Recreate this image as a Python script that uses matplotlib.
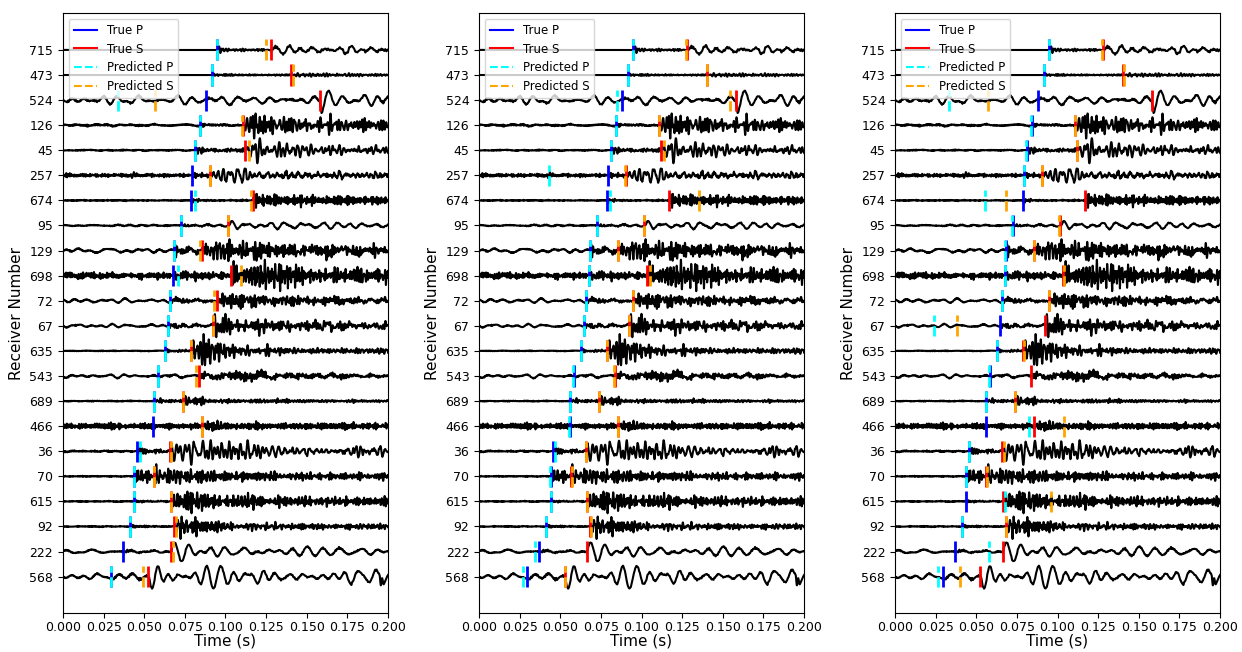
import numpy as np
import matplotlib.pyplot as plt
from matplotlib.lines import Line2D

# receivers, top to bottom
receivers = [715, 473, 524, 126, 45, 257, 674, 95, 129, 698, 72,
             67, 635, 543, 689, 466, 36, 70, 615, 92, 222, 568]

true_p = [0.0946, 0.0917, 0.0878, 0.0841, 0.0810, 0.0791, 0.0789, 0.0724, 0.0681, 0.0675, 0.0661,
          0.0644, 0.0627, 0.0582, 0.0561, 0.0557, 0.0453, 0.0440, 0.0440, 0.0410, 0.0371, 0.0294]
true_s = [0.1277, 0.1405, 0.1581, 0.1106, 0.1120, 0.0906, 0.1167, 0.1013, 0.0854, 0.1035, 0.0949,
          0.0921, 0.0790, 0.0834, 0.0737, 0.0856, 0.0658, 0.0563, 0.0664, 0.0685, 0.0663, 0.0526]

nan = np.nan
pred_p = [
    [0.0946, 0.0917, 0.0339, 0.0841, 0.0810, nan, 0.0810, 0.0724, 0.0681, 0.0707, 0.0661,
     0.0644, 0.0627, 0.0582, 0.0561, nan, 0.0471, 0.0440, 0.0440, 0.0410, nan, 0.0294],
    [0.0945, 0.0918, 0.0850, 0.0840, 0.0809, 0.0431, 0.0807, 0.0723, 0.0682, 0.0676, 0.0661,
     0.0643, 0.0628, 0.0581, 0.0560, 0.0556, 0.0468, 0.0439, 0.0441, 0.0409, 0.0345, 0.0271],
    [0.0945, 0.0916, 0.0333, 0.0840, 0.0809, 0.0791, 0.0556, 0.0723, 0.0680, 0.0674, 0.0661,
     0.0238, 0.0628, 0.0581, 0.0563, 0.0823, 0.0454, 0.0439, 0.0678, 0.0411, 0.0581, 0.0263],
]
pred_s = [
    [0.1248, 0.1418, 0.0567, 0.1104, 0.1143, 0.0906, 0.1157, 0.1015, 0.0843, 0.1094, 0.0931,
     0.0921, 0.0789, 0.0820, 0.0736, 0.0855, 0.0666, 0.0561, 0.0664, 0.0693, 0.0676, 0.0491],
    [0.1273, 0.1405, 0.1546, 0.1105, 0.1138, 0.0900, 0.1355, 0.1012, 0.0856, 0.1051, 0.0947,
     0.0920, 0.0790, 0.0832, 0.0737, 0.0856, 0.0657, 0.0571, 0.0663, 0.0686, nan, 0.0528],
    [0.1275, 0.1407, 0.0571, 0.1107, 0.1119, 0.0906, 0.0686, 0.1012, 0.0854, 0.1037, 0.0949,
     0.0380, 0.0791, nan, 0.0737, 0.1037, 0.0670, 0.0565, 0.0963, 0.0686, nan, 0.0398],
]

# rough trace character (amplitudes in trace spacings)
lf_amp = [0.0, 0.0, 0.07, 0.02, 0.008, 0.008, 0.004, 0.015, 0.04, 0.015, 0.035,
          0.04, 0.004, 0.035, 0.004, 0.008, 0.008, 0.004, 0.004, 0.004, 0.04, 0.05]
hf_amp = [0.0, 0.0, 0.012, 0.012, 0.008, 0.025, 0.008, 0.008, 0.012, 0.045, 0.008,
          0.008, 0.006, 0.008, 0.008, 0.045, 0.012, 0.008, 0.008, 0.008, 0.008, 0.008]
p_amp = [0.07, 0.04, 0.025, 0.025, 0.1, 0.04, 0.03, 0.03, 0.12, 0.12, 0.06,
         0.06, 0.04, 0.03, 0.06, 0.015, 0.08, 0.18, 0.03, 0.03, 0.03, 0.04]
s_amp = [0.12, 0.04, 0.18, 0.22, 0.26, 0.16, 0.1, 0.1, 0.26, 0.26, 0.22,
         0.26, 0.3, 0.11, 0.09, 0.09, 0.26, 0.22, 0.22, 0.22, 0.16, 0.26]
s_freq = [120, 400, 100, 500, 300, 250, 900, 120, 600, 700, 600,
          500, 500, 600, 500, 600, 300, 600, 700, 600, 90, 110]
coda = [0.08, 0.05, 0.05, 0.10, 0.03, 0.04, 0.15, 0.06, 0.04, 0.06, 0.03,
        0.03, 0.02, 0.05, 0.015, 0.04, 0.05, 0.03, 0.06, 0.025, 0.15, 0.12]
bursts = [(5, 0.043, 0.12), (21, 0.196, 0.2)]  # (trace, time, amplitude)

t = np.linspace(0, 0.2, 4001)


def frac(x):
    return x - np.floor(x)


def tones(t, k, fmin, fmax, n=60):
    # deterministic broadband wiggle (hash-like tone frequencies/phases)
    j = np.arange(n)[:, None]
    f = fmin + (fmax - fmin) * frac(np.sin(j * 12.9898 + k * 78.233) * 43758.5453)
    ph = 2 * np.pi * frac(np.sin(j * 39.3468 + k * 11.135) * 24634.6345)
    return np.sin(2 * np.pi * f * t + ph).sum(axis=0) / np.sqrt(n / 2)


def trace(i):
    p, s = true_p[i], true_s[i]
    after_p = np.clip((t - p) / 0.001, 0, 1)
    after_s = np.clip((t - s) / 0.001, 0, 1)
    quiet = 1.0 if lf_amp[i] > 0 else 0.0
    w = lf_amp[i] * tones(t, i, 40, 160, 20)
    w += hf_amp[i] * tones(t, i + 50, 600, 1600)
    w += 0.008 * (1 - quiet) * after_p * tones(t, i + 80, 300, 1200)
    env_p = p_amp[i] * after_p * (0.3 + 0.7 * np.exp(-np.clip(t - p, 0, None) / 0.006))
    w += env_p * tones(t, i + 20, 400, 1000)
    ds = np.clip(t - s, 0, None)
    env_s = s_amp[i] * after_s * (0.2 + 0.8 * np.exp(-ds / coda[i]))
    w += env_s * tones(t, i + 30, 0.6 * s_freq[i], 1.6 * s_freq[i])
    for k, tb, a in bursts:
        if k == i:
            w += a * np.exp(-((t - tb) / 0.0015) ** 2) * np.sin(2 * np.pi * 500 * (t - tb))
    return w


waves = [trace(i) for i in range(len(receivers))]
n = len(receivers)
offsets = np.arange(n)[::-1]

fig = plt.figure(figsize=(12.42, 6.52), dpi=100)
lefts = [0.0507, 0.3857, 0.7206]
for k in range(3):
    ax = fig.add_axes([lefts[k], 0.0598, 0.2617, 0.9202])
    for i in range(n):
        y0 = offsets[i]
        ax.plot(t, y0 + waves[i], color="black", lw=1.5)
        ax.vlines(true_p[i], y0 - 0.42, y0 + 0.42, color="blue", lw=2)
        ax.vlines(true_s[i], y0 - 0.42, y0 + 0.42, color="red", lw=2)
        if not np.isnan(pred_p[k][i]):
            ax.vlines(pred_p[k][i], y0 - 0.42, y0 + 0.42, color="cyan", lw=2, linestyles="--")
        if not np.isnan(pred_s[k][i]):
            ax.vlines(pred_s[k][i], y0 - 0.42, y0 + 0.42, color="orange", lw=2, linestyles="--")
    ax.set_xlim(0, 0.2)
    ax.set_ylim(-1.45, n - 1 + 1.47)
    ax.set_yticks(offsets)
    ax.set_yticklabels([str(r) for r in receivers], fontsize=9)
    ticks = np.arange(0, 0.2001, 0.025)
    ax.set_xticks(ticks)
    ax.set_xticklabels([f"{v:.3f}" for v in ticks], fontsize=9)
    ax.tick_params(axis="x", pad=2)
    ax.set_xlabel("Time (s)", fontsize=11, labelpad=0)
    ax.set_ylabel("Receiver Number", fontsize=11)
    handles = [Line2D([], [], color="blue", lw=1.5),
               Line2D([], [], color="red", lw=1.5),
               Line2D([], [], color="cyan", lw=1.5, ls="--"),
               Line2D([], [], color="orange", lw=1.5, ls="--")]
    ax.legend(handles, ["True P", "True S", "Predicted P", "Predicted S"],
              loc="upper left", fontsize=8.5)

fig.savefig("out.png", dpi=100)
